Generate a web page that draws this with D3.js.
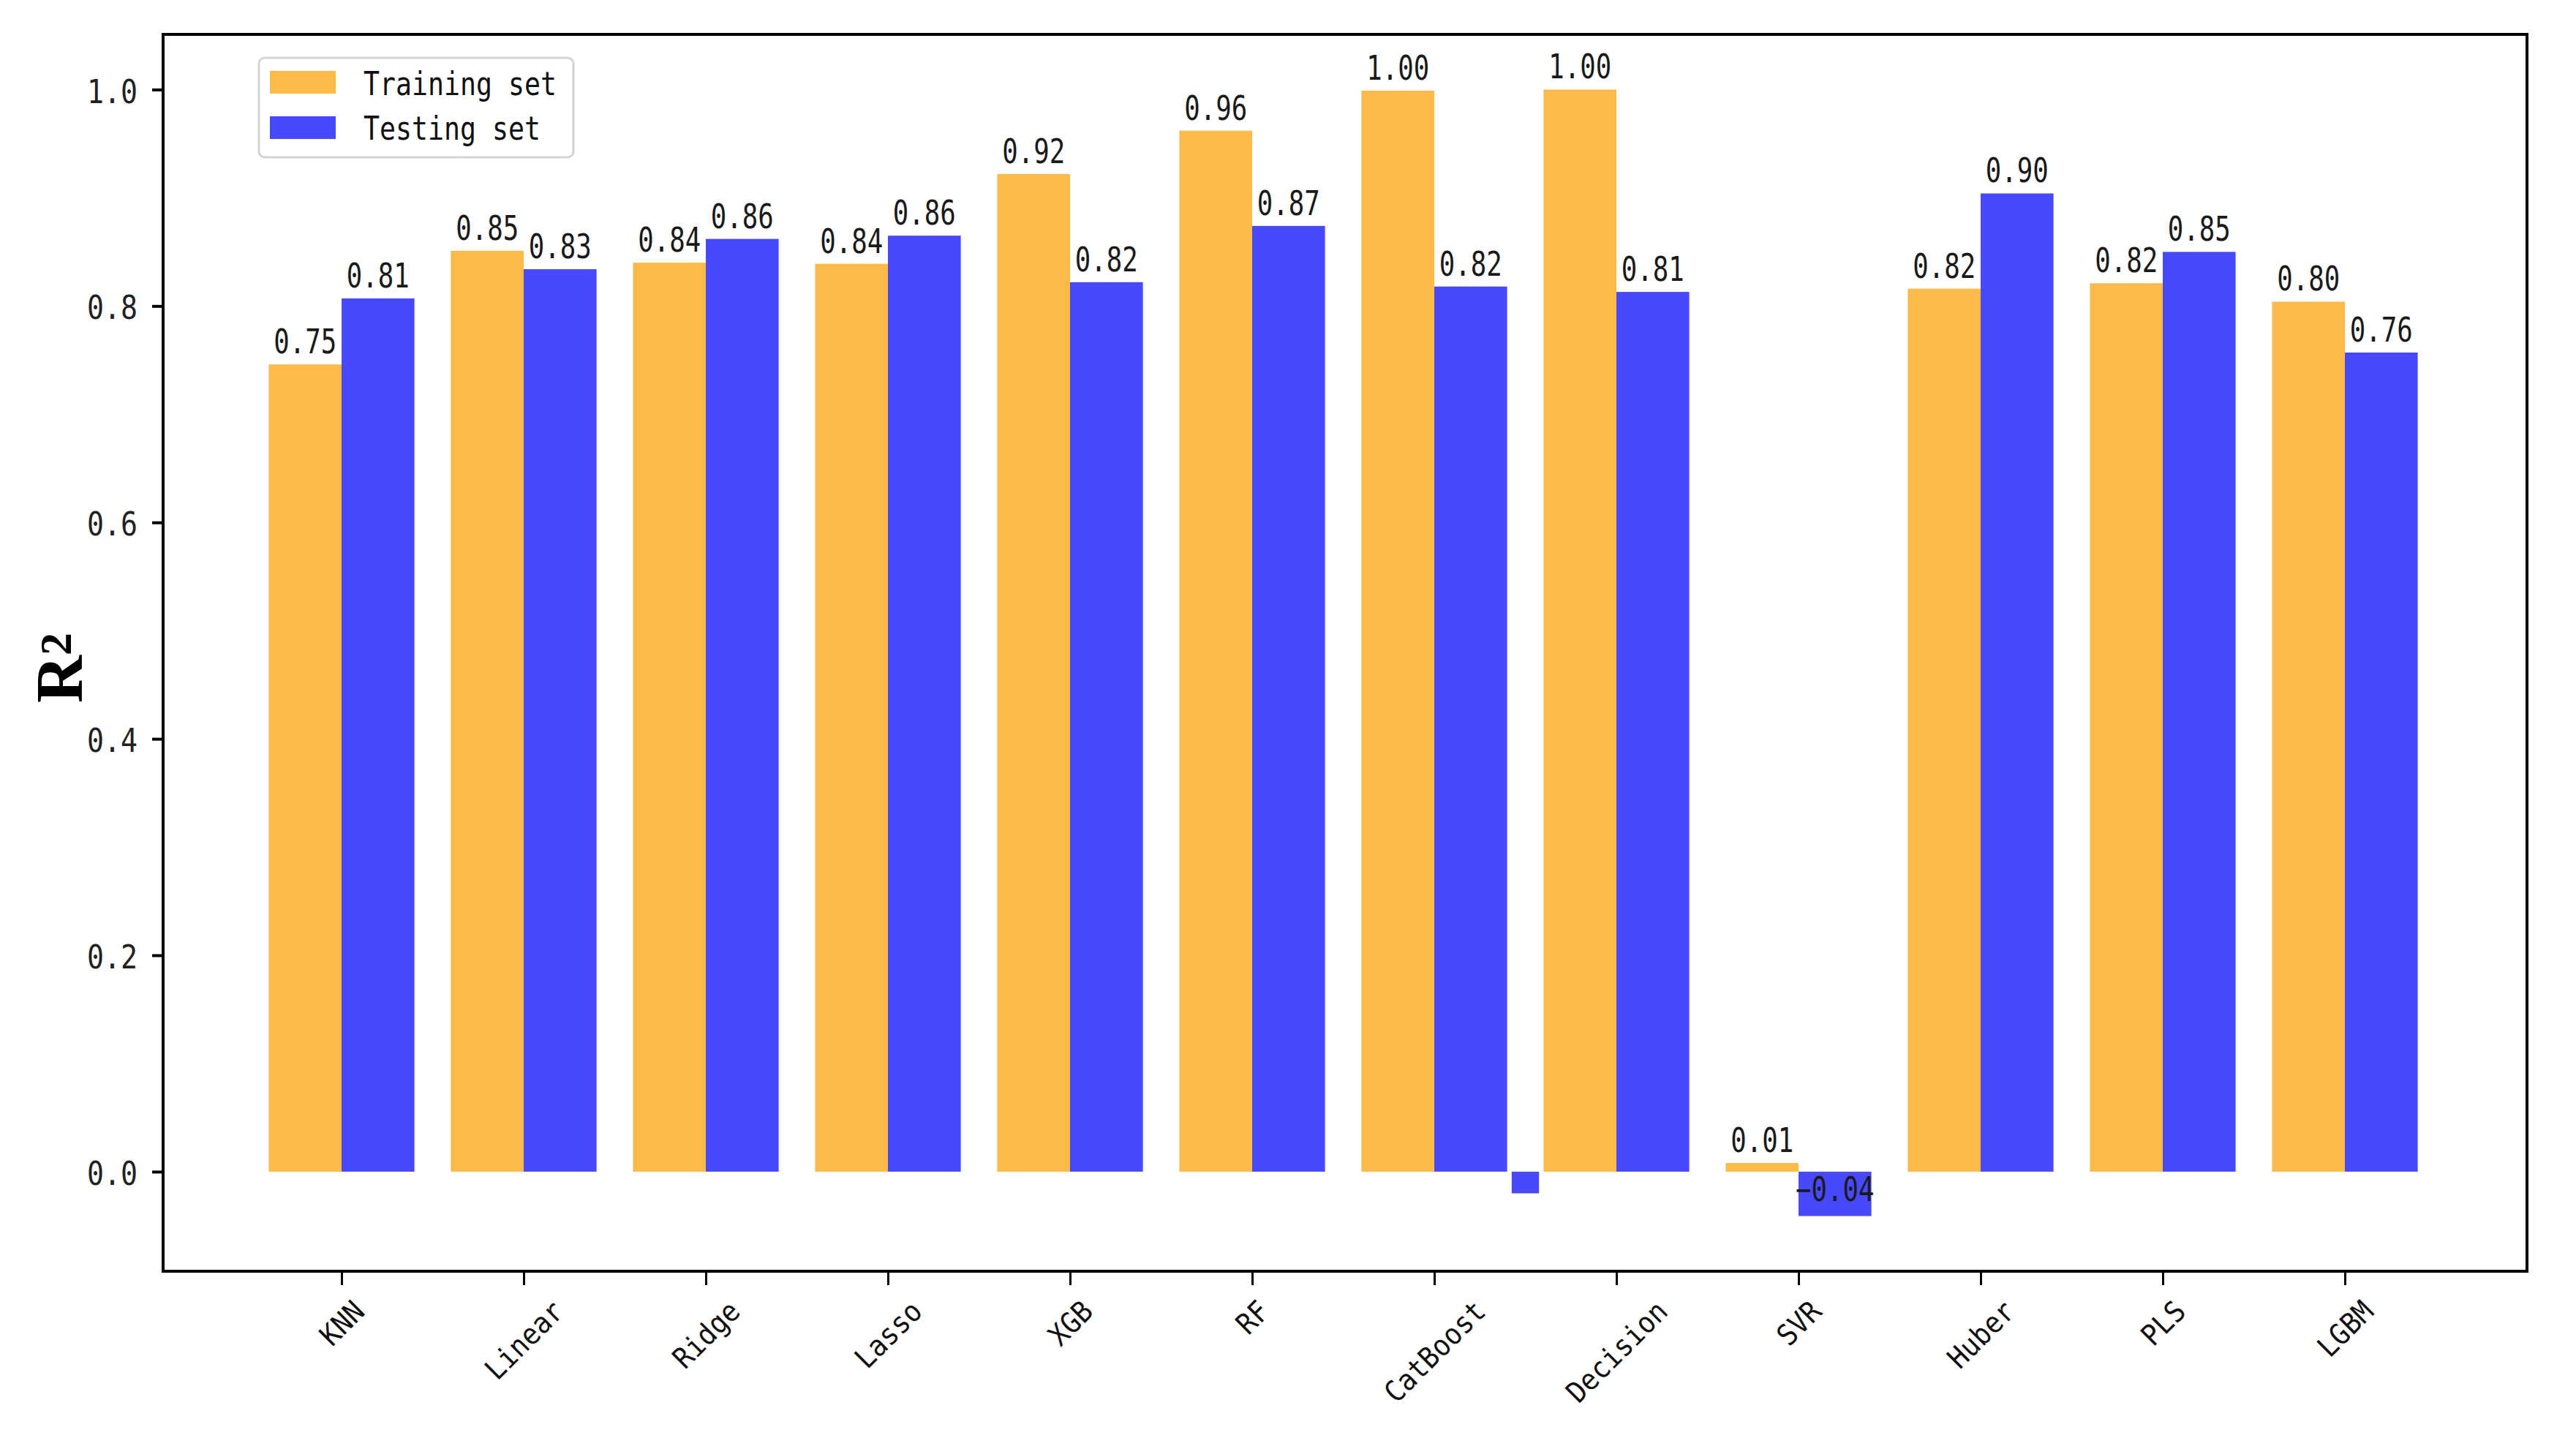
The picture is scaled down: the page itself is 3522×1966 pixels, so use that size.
<!DOCTYPE html>
<html>
<head>
<meta charset="utf-8">
<script src="https://cdn.jsdelivr.net/npm/d3@7"></script>
<style>
  html, body { margin: 0; padding: 0; background: #ffffff; }
  svg { display: block; }
</style>
</head>
<body>
<script>
// ---------------- data ----------------
const categories = ["KNN", "Linear", "Ridge", "Lasso", "XGB", "RF", "CatBoost", "Decision", "SVR", "Huber", "PLS", "LGBM"];
const trainingValues = [0.746, 0.851, 0.840, 0.839, 0.922, 0.962, 0.999, 1.000, 0.008, 0.816, 0.821, 0.804];
const testingValues  = [0.807, 0.834, 0.862, 0.865, 0.822, 0.874, 0.818, 0.813, -0.041, 0.904, 0.850, 0.757];
const seriesNames = ["Training set", "Testing set"];
const seriesColors = ["#FCBA4A", "#4848FC"];
const yTickValues = [0.0, 0.2, 0.4, 0.6, 0.8, 1.0];
// small stray negative blue mark between CatBoost and Decision (category-index position)
const strayPositions = [6.5];
const strayValues = [-0.02];
const strayWidths = [0.15];

(function () {
// ---------------- layout ----------------
const W = 3522, H = 1966;
const pLeft = 223, pRight = 3455, pTop = 47, pBottom = 1738;
const barW = 0.4;

const svg = d3.select("body").append("svg")
  .attr("width", W).attr("height", H)
  .attr("viewBox", `0 0 ${W} ${H}`);
svg.append("rect").attr("width", W).attr("height", H).attr("fill", "#ffffff");

const x = d3.scaleLinear().domain([-0.98, 12.0]).range([pLeft, pRight]);
const y = d3.scaleLinear().domain([-0.092, 1.051]).range([pBottom, pTop]);

const monoFont = "'DejaVu Sans Mono', 'Liberation Mono', monospace";

// ---------------- bars ----------------
const g = svg.append("g");
const series = [trainingValues, testingValues];
series.forEach((vals, s) => {
  g.selectAll(null).data(vals).enter().append("rect")
    .attr("x", (d, i) => s === 0 ? x(i - barW) : x(i))
    .attr("width", (d, i) => x(i + barW) - x(i))
    .attr("y", d => Math.min(y(d), y(0)))
    .attr("height", d => Math.abs(y(d) - y(0)))
    .attr("fill", seriesColors[s]);
});

// stray mark
g.selectAll(null).data(strayValues).enter().append("rect")
  .attr("x", (d, i) => x(strayPositions[i] - strayWidths[i] / 2))
  .attr("width", (d, i) => x(strayPositions[i] + strayWidths[i] / 2) - x(strayPositions[i] - strayWidths[i] / 2))
  .attr("y", d => Math.min(y(d), y(0)))
  .attr("height", d => Math.abs(y(d) - y(0)))
  .attr("fill", seriesColors[1]);

// value labels
const fmt = d3.format(".2f");
series.forEach((vals, s) => {
  g.selectAll(null).data(vals).enter().append("text")
    .attr("x", (d, i) => s === 0 ? x(i - barW / 2) : x(i + barW / 2))
    .attr("y", d => d >= 0 ? y(d) - 15 : y(d) - 21)
    .attr("text-anchor", "middle")
    .attr("font-family", monoFont)
    .attr("font-size", 46)
    .attr("fill", "#1a1a1a")
    .attr("textLength", d => fmt(d).length * 21.5)
    .attr("lengthAdjust", "spacingAndGlyphs")
    .text(d => fmt(d));
});

// ---------------- axes ----------------
const yAxis = svg.append("g").attr("transform", `translate(${pLeft},0)`)
  .call(d3.axisLeft(y).tickValues(yTickValues).tickFormat(d3.format(".1f")).tickSize(15).tickPadding(20));
yAxis.select(".domain").remove();
yAxis.selectAll(".tick line").attr("stroke", "#000").attr("stroke-width", 4);
yAxis.selectAll(".tick text")
  .attr("font-family", monoFont)
  .attr("font-size", 44)
  .attr("fill", "#222")
  .attr("dy", "0.4em")
  .attr("textLength", 69)
  .attr("lengthAdjust", "spacingAndGlyphs");

const xAxis = svg.append("g").attr("transform", `translate(0,${pBottom})`)
  .call(d3.axisBottom(x).tickValues(d3.range(categories.length)).tickFormat(i => categories[i]).tickSize(19));
xAxis.select(".domain").remove();
xAxis.selectAll(".tick line").attr("stroke", "#000").attr("stroke-width", 3);
xAxis.selectAll(".tick text").each(function(d, i) {
  const t = d3.select(this);
  const label = categories[i];
  const w = label.length * 22;
  const h = 30;
  const cy = 37 + (w + h) / (2 * Math.SQRT2);
  t.attr("x", 0).attr("y", cy).attr("dy", null)
    .attr("text-anchor", "middle")
    .attr("dominant-baseline", "central")
    .attr("font-family", monoFont)
    .attr("font-size", 40)
    .attr("fill", "#111")
    .attr("textLength", w)
    .attr("lengthAdjust", "spacingAndGlyphs")
    .attr("transform", `rotate(-45, 0, ${cy})`);
});

// frame (spines)
svg.append("rect")
  .attr("x", pLeft).attr("y", pTop)
  .attr("width", pRight - pLeft).attr("height", pBottom - pTop)
  .attr("fill", "none").attr("stroke", "#000").attr("stroke-width", 4);

// y label R²
const yl = svg.append("text")
  .attr("transform", `translate(112, 913) rotate(-90)`)
  .attr("text-anchor", "middle")
  .attr("font-family", "'Liberation Serif', 'Times New Roman', serif")
  .attr("font-weight", "bold")
  .attr("font-size", 90)
  .attr("fill", "#000");
yl.append("tspan").text("R");
yl.append("tspan").attr("font-size", 62).attr("dy", "-0.25em").text("2");

// ---------------- legend ----------------
const lg = svg.append("g");
lg.append("rect")
  .attr("x", 354).attr("y", 79).attr("width", 430).attr("height", 136)
  .attr("rx", 8).attr("fill", "#fff").attr("stroke", "#d4d4d4").attr("stroke-width", 3);
const legendRows = [{ py: 97, ty: 130 }, { py: 159, ty: 191 }];
seriesNames.forEach((name, s) => {
  lg.append("rect")
    .attr("x", 369).attr("y", legendRows[s].py).attr("width", 90).attr("height", 31)
    .attr("fill", seriesColors[s]);
  lg.append("text")
    .attr("x", 497).attr("y", legendRows[s].ty)
    .attr("font-family", monoFont)
    .attr("font-size", 44)
    .attr("fill", "#111")
    .attr("textLength", name.length * 22)
    .attr("lengthAdjust", "spacingAndGlyphs")
    .text(name);
});
})();
</script>
</body>
</html>
